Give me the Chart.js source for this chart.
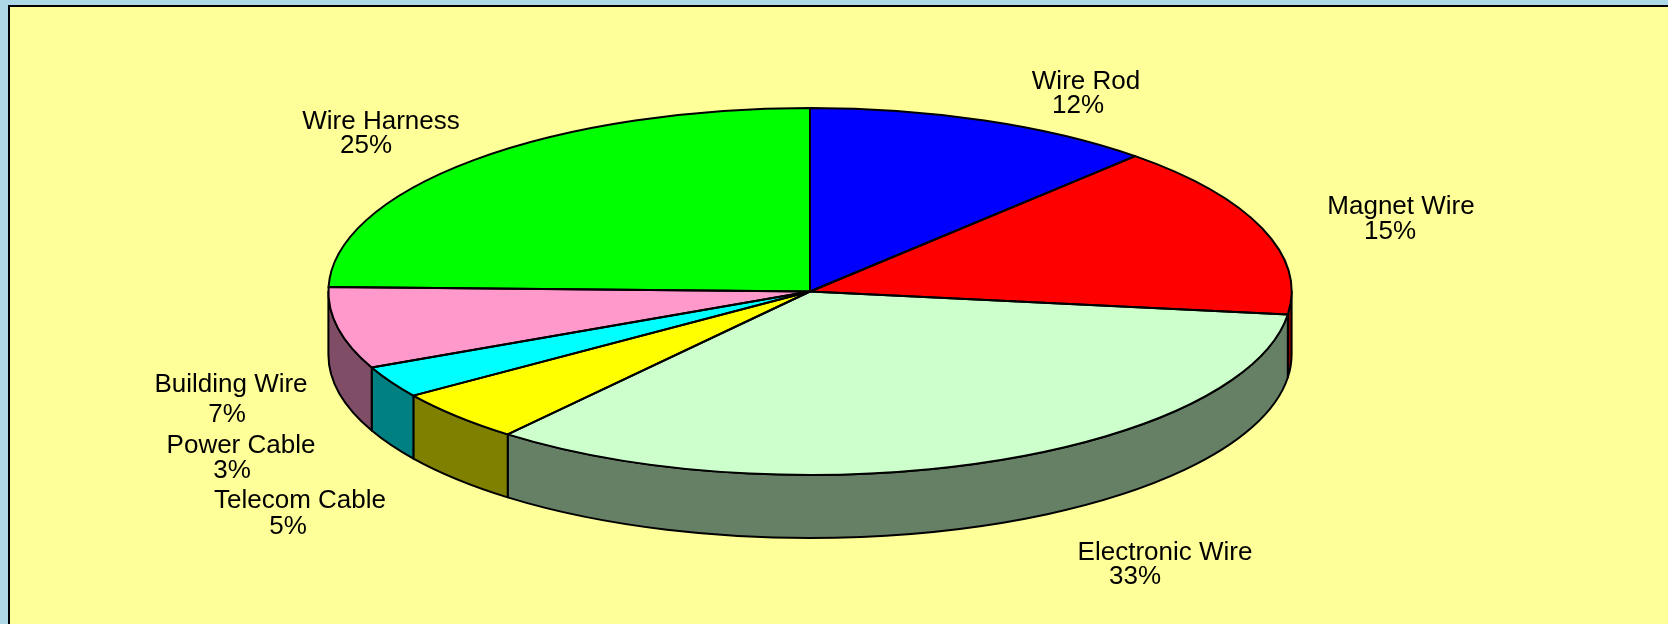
<!DOCTYPE html>
<html>
<head>
<meta charset="utf-8">
<script src="https://cdn.jsdelivr.net/npm/chart.js@4/dist/chart.umd.min.js"></script>
<style>
  html, body { margin: 0; padding: 0; width: 1668px; height: 624px; overflow: hidden; background: #ADD8E6; }
  #panel { position: absolute; left: 8px; top: 5px; width: 1720px; height: 700px; border: 2px solid #000; background: #FFFF99; }
  #c { position: absolute; left: 0; top: 0; }
</style>
</head>
<body>
<div id="panel"></div>
<canvas id="c" width="1668" height="624"></canvas>
<script>
// ---- data ----
const categories = ['Wire Rod', 'Magnet Wire', 'Electronic Wire', 'Telecom Cable', 'Power Cable', 'Building Wire', 'Wire Harness'];
const shares = [11.8, 15.2, 33.8, 4.6, 2.8, 7.2, 24.6];
const percentLabels = ['12%', '15%', '33%', '5%', '3%', '7%', '25%'];

// ---- styles ----
const topColors = ['#0000FF', '#FF0000', '#CCFFCC', '#FFFF00', '#00FFFF', '#FF99CC', '#00FF00'];
const sideColors = ['#000080', '#800000', '#668066', '#808000', '#008080', '#804D66', '#008000'];
// label line anchors (centre x, baseline y) for name line and percent line
const labelSpots = [
  [1086, 89, 1078, 113],
  [1401, 214, 1390, 239],
  [1165, 560, 1135, 584],
  [300, 508, 288, 534],
  [241, 453, 232, 478],
  [231, 392, 227, 422],
  [381, 129, 366, 153]
];
const PIE_RADIUS = 481.6;   // horizontal radius
const TILT = 183.5 / 481.6; // vertical squash
const DEPTH = 63;           // extrusion height
const FONT = '26px "Liberation Sans", Arial, sans-serif';

const pie3d = {
  id: 'pie3d',
  beforeDatasetsDraw(chart) {
    const ctx = chart.ctx;
    const meta = chart.getDatasetMeta(0);
    const arcs = meta.data;
    if (!arcs.length) return;
    const cx = arcs[0].x, cy = arcs[0].y, R = arcs[0].outerRadius, ry = R * TILT;
    // side walls (front half only: angles 0..PI)
    ctx.save();
    ctx.lineWidth = 2;
    ctx.strokeStyle = '#000';
    ctx.lineJoin = 'round';
    arcs.forEach((a, i) => {
      const a0 = Math.max(a.startAngle, 0);
      const a1 = Math.min(a.endAngle, Math.PI);
      if (a1 <= a0) return;
      ctx.beginPath();
      ctx.ellipse(cx, cy, R, ry, 0, a0, a1, false);
      ctx.lineTo(cx + R * Math.cos(a1), cy + DEPTH + ry * Math.sin(a1));
      ctx.ellipse(cx, cy + DEPTH, R, ry, 0, a1, a0, true);
      ctx.closePath();
      ctx.fillStyle = sideColors[i];
      ctx.fill();
      ctx.stroke();
    });
    ctx.restore();
    // squash the top face into an ellipse
    ctx.save();
    ctx.translate(cx, cy);
    ctx.scale(1, TILT);
    ctx.translate(-cx, -cy);
  },
  afterDatasetsDraw(chart) {
    const ctx = chart.ctx;
    ctx.restore();
    const arcs = chart.getDatasetMeta(0).data;
    if (!arcs.length) return;
    const cx = arcs[0].x, cy = arcs[0].y, R = arcs[0].outerRadius, ry = R * TILT;
    ctx.save();
    ctx.lineWidth = 2;
    ctx.strokeStyle = '#000';
    ctx.lineJoin = 'round';
    arcs.forEach((a) => {
      ctx.beginPath();
      ctx.moveTo(cx, cy);
      ctx.lineTo(cx + R * Math.cos(a.startAngle), cy + ry * Math.sin(a.startAngle));
      ctx.ellipse(cx, cy, R, ry, 0, a.startAngle, a.endAngle, false);
      ctx.closePath();
      ctx.stroke();
    });
    ctx.restore();
  },
  afterDraw(chart) {
    const ctx = chart.ctx;
    ctx.save();
    ctx.font = FONT;
    ctx.fillStyle = '#000';
    ctx.textAlign = 'center';
    ctx.textBaseline = 'alphabetic';
    categories.forEach((name, i) => {
      const s = labelSpots[i];
      ctx.fillText(name, s[0], s[1]);
      ctx.fillText(percentLabels[i], s[2], s[3]);
    });
    ctx.restore();
  }
};

new Chart(document.getElementById('c'), {
  type: 'pie',
  data: {
    labels: categories,
    datasets: [{
      data: shares,
      backgroundColor: topColors,
      borderWidth: 0,
      radius: PIE_RADIUS,
      clip: false
    }]
  },
  options: {
    responsive: false,
    animation: false,
    radius: PIE_RADIUS,
    rotation: 0,
    layout: { padding: { left: 0, right: 48, top: 0, bottom: 41 } },
    plugins: { legend: { display: false }, tooltip: { enabled: false } },
    events: []
  },
  plugins: [pie3d]
});
</script>
</body>
</html>
